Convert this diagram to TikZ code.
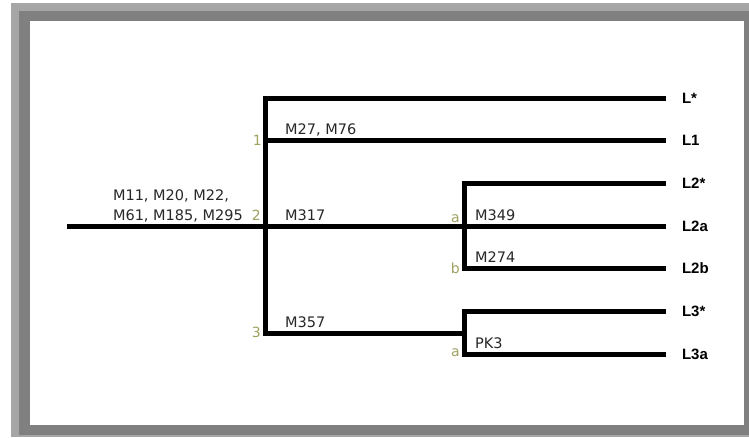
\documentclass[tikz,border=0pt]{standalone}
\usepackage{fontspec}
\setmainfont{DejaVu Sans}
\newfontfamily\leaffont{Liberation Sans}
\usetikzlibrary{positioning}
\definecolor{framelight}{RGB}{166,166,166}
\definecolor{framedark}{RGB}{128,128,128}
\definecolor{olivenum}{RGB}{160,160,96}
\definecolor{inkgray}{RGB}{40,40,40}

\begin{document}
\begin{tikzpicture}[x=1pt,y=-1pt,
  branch/.style={line width=5pt},
  leaf/.style={font=\leaffont\bfseries\fontsize{15}{18}\selectfont,anchor=west,inner sep=0pt,outer xsep=16pt},
  marker/.style={font=\fontsize{14.5}{20}\selectfont,text=inkgray,inner sep=0pt},
  nodenum/.style={font=\fontsize{14}{17}\selectfont,text=olivenum,inner sep=0pt}]
\useasboundingbox (0,0) rectangle (749,437);
% frame
\fill[framelight] (11,3) rectangle (749,437);
\fill[framedark] (19,11) rectangle (749,435);
\fill[white] (30,21) rectangle (744,425);
% junctions
\coordinate (root) at (67,226);
\coordinate (top) at (265,98);
\coordinate (j1) at (265,140);
\coordinate (j2) at (265,226);
\coordinate (j3) at (265,333);
\coordinate (j2top) at (464,183);
\coordinate (j2a) at (464,226);
\coordinate (j2b) at (464,268);
\coordinate (j3top) at (464,311);
\coordinate (j3a) at (464,333);
\coordinate (j3b) at (464,354);
% leaves
\foreach \n/\t/\y in {ls/L*/98,l1/L1/140,l2s/L2*/183,l2a/L2a/226,l2b/L2b/268,l3s/L3*/311,l3a/L3a/354}{
  \node[leaf] (\n) at (666,\y) {\t};
}
% branches
\draw[branch] (ls.west) -- (top) -- (j3) -- (j3a);
\draw[branch] (j1) -- (l1.west);
\draw[branch] (root) -- (l2a.west);
\draw[branch] (l2s.west) -- (j2top) -- (j2b) -- (l2b.west);
\draw[branch] (l3s.west) -- (j3top) -- (j3b) -- (l3a.west);
% markers
\node[marker,anchor=south east,align=left] (mroot) at (243,222) {M11, M20, M22,\\M61, M185, M295};
\node[marker,anchor=base west] (m1) at ([shift={(20,-6)}]j1) {M27, M76};
\node[marker,anchor=base west] (m2) at ([shift={(20,-6)}]j2) {M317};
\node[marker,anchor=base west] (m3) at ([shift={(20,-6)}]j3) {M357};
\node[marker,anchor=base west] (m2a) at ([shift={(11,-6)}]j2a) {M349};
\node[marker,anchor=base west] (m2b) at ([shift={(11,-6)}]j2b) {M274};
\node[marker,anchor=base west] (m3b) at ([shift={(11,-6)}]j3b) {PK3};
% node numbers
\node[nodenum,anchor=east] (n1) at (262,140) {1};
\node[nodenum,anchor=base east] (n2) at (261,220) {2};
\node[nodenum,anchor=east] (n3) at (261,332) {3};
\node[nodenum,anchor=base east] (n2a) at (460,222) {a};
\node[nodenum,anchor=east] (n2b) at (460,268) {b};
\node[nodenum,anchor=east] (n3a) at (460,353) {a};
\end{tikzpicture}
\end{document}
